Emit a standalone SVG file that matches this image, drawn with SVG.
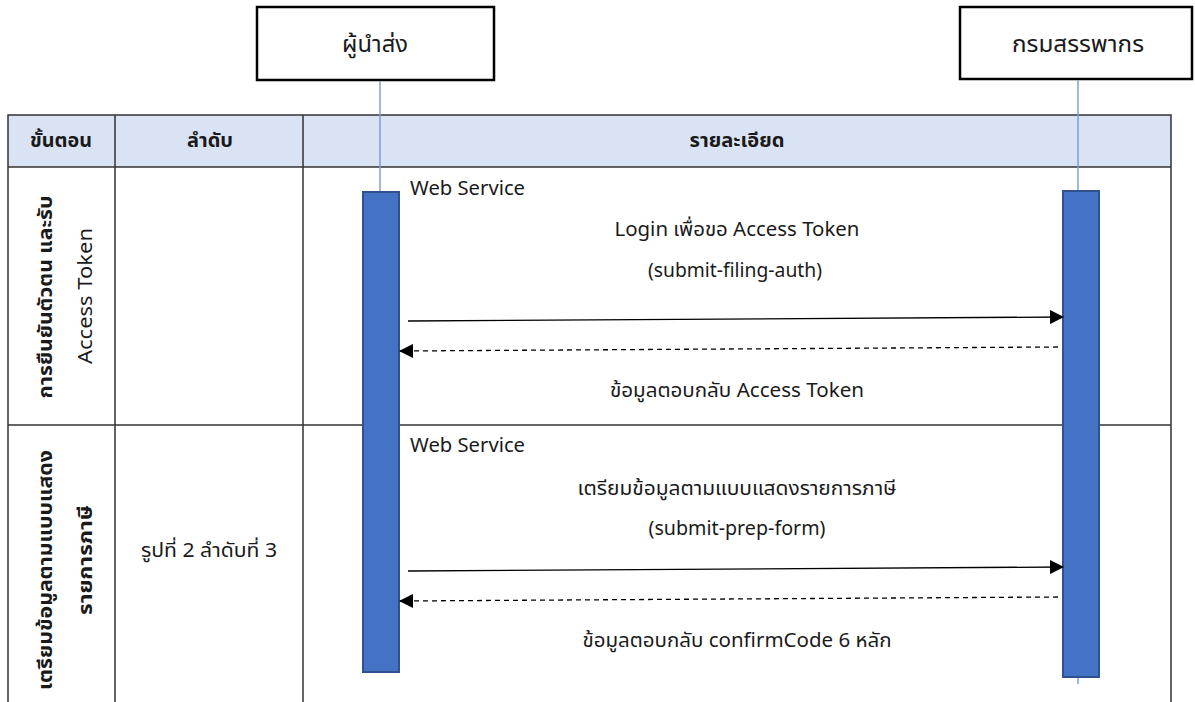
<svg xmlns="http://www.w3.org/2000/svg" width="1195" height="702" viewBox="0 0 1195 702">
<defs>
<style>
text{font-family:"Noto Sans","Noto Sans Thai","Liberation Sans",sans-serif;fill:#1a1a1a}
.hd{font-size:19px;font-weight:bold;text-anchor:middle}
.lbl{font-size:19.5px;text-anchor:middle}
.ws{font-size:19.5px}
.act{font-size:23px;text-anchor:middle}
.grid{stroke:#333;stroke-width:1.5;fill:none}
.life{stroke:#7F9FD6;stroke-width:1.5}
.bar{fill:#4472C4;stroke:#2F528F;stroke-width:2}
.msg{stroke:#000;stroke-width:1.3;fill:none}
.ret{stroke:#000;stroke-width:1.3;stroke-dasharray:5 4;fill:none}
</style>
<marker id="ahs" markerWidth="14" markerHeight="14" refX="13" refY="7" orient="auto" markerUnits="userSpaceOnUse" viewBox="0 0 14 14">
<path d="M0,0 L14,7 L0,14 z" fill="#000"/>
</marker>
</defs>

<g id="table">
<rect x="8" y="115" width="1163" height="52" fill="#DAE3F3"/>
<path class="grid" d="M8,702 V115 H1171 V702 M115,115 V702 M303,115 V702 M8,167 H1171 M8,425 H1171"/>
<text class="hd" x="61" y="147" textLength="62" lengthAdjust="spacingAndGlyphs">ขั้นตอน</text>
<text class="hd" x="210" y="147" textLength="46" lengthAdjust="spacingAndGlyphs">ลำดับ</text>
<text class="hd" x="737" y="147" textLength="95" lengthAdjust="spacingAndGlyphs">รายละเอียด</text>
</g>

<g id="step1">
<text class="hd" transform="translate(52,297) rotate(-90)" textLength="203" lengthAdjust="spacingAndGlyphs">การยืนยันตัวตน และรับ</text>
<text class="lbl" transform="translate(92,296) rotate(-90)" style="font-size:20.5px" textLength="136" lengthAdjust="spacingAndGlyphs">Access Token</text>
</g>
<g id="step2">
<text class="hd" transform="translate(52,570) rotate(-90)" textLength="240" lengthAdjust="spacingAndGlyphs">เตรียมข้อมูลตามแบบแสดง</text>
<text class="hd" transform="translate(92,560) rotate(-90)" textLength="110" lengthAdjust="spacingAndGlyphs">รายการภาษี</text>
<text class="lbl" x="209" y="557" textLength="136" lengthAdjust="spacingAndGlyphs">รูปที่ 2 ลำดับที่ 3</text>
</g>

<g id="actor-sender">
<rect x="257" y="7" width="237" height="73" fill="#fff" stroke="#000" stroke-width="2.5"/>
<text class="act" x="375" y="52" textLength="66" lengthAdjust="spacingAndGlyphs">ผู้นำส่ง</text>
<line class="life" x1="380" y1="81" x2="380" y2="192"/>
<rect class="bar" x="363" y="192" width="36" height="480"/>
</g>

<g id="actor-rd">
<rect x="960" y="7" width="232" height="72" fill="#fff" stroke="#000" stroke-width="2.5"/>
<text class="act" x="1078" y="52" textLength="132" lengthAdjust="spacingAndGlyphs">กรมสรรพากร</text>
<line class="life" x1="1078" y1="80" x2="1078" y2="684"/>
<rect class="bar" x="1063" y="191" width="36" height="486"/>
</g>

<g id="connectors">
<line class="msg" x1="408" y1="321" x2="1063" y2="317" marker-end="url(#ahs)"/>
<line class="ret" x1="1058" y1="347" x2="400" y2="351" marker-end="url(#ahs)"/>
<line class="msg" x1="408" y1="571" x2="1063" y2="567" marker-end="url(#ahs)"/>
<line class="ret" x1="1058" y1="597" x2="400" y2="601" marker-end="url(#ahs)"/>
</g>

<g id="labels">
<text class="ws" x="410" y="195" textLength="115" lengthAdjust="spacingAndGlyphs">Web Service</text>
<text class="lbl" x="737" y="236" textLength="245" lengthAdjust="spacingAndGlyphs">Login เพื่อขอ Access Token</text>
<text class="lbl" x="735" y="277" textLength="174" lengthAdjust="spacingAndGlyphs">(submit-filing-auth)</text>
<text class="lbl" x="737" y="397" textLength="254" lengthAdjust="spacingAndGlyphs">ข้อมูลตอบกลับ Access Token</text>
<text class="ws" x="410" y="452" textLength="115" lengthAdjust="spacingAndGlyphs">Web Service</text>
<text class="lbl" x="737" y="495" textLength="319" lengthAdjust="spacingAndGlyphs">เตรียมข้อมูลตามแบบแสดงรายการภาษี</text>
<text class="lbl" x="737" y="535" textLength="177" lengthAdjust="spacingAndGlyphs">(submit-prep-form)</text>
<text class="lbl" x="737" y="647" textLength="309" lengthAdjust="spacingAndGlyphs">ข้อมูลตอบกลับ confirmCode 6 หลัก</text>
</g>
</svg>
